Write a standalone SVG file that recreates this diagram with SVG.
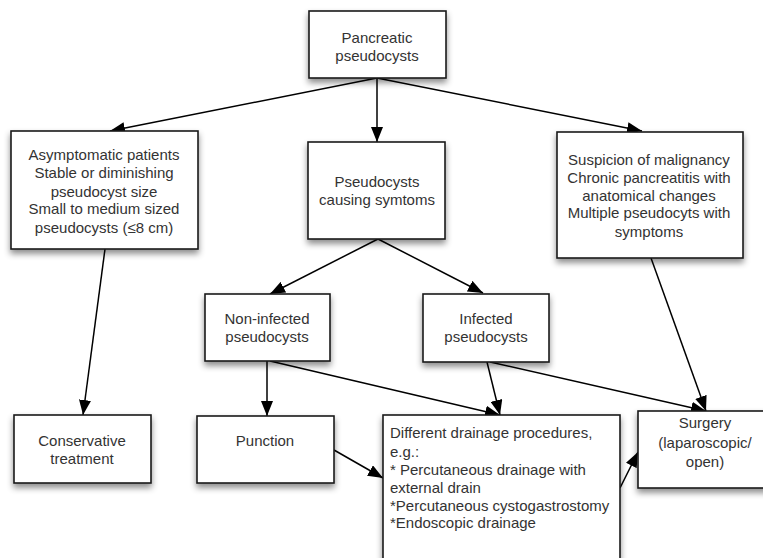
<svg xmlns="http://www.w3.org/2000/svg" width="763" height="558" viewBox="0 0 763 558">
<defs>
<filter id="sh" x="-20%" y="-20%" width="140%" height="150%">
<feDropShadow dx="0" dy="4" stdDeviation="3" flood-color="#000" flood-opacity="0.45"/>
</filter>
<marker id="ah" markerUnits="userSpaceOnUse" markerWidth="15" markerHeight="12" viewBox="0 0 15 12" refX="15" refY="6" orient="auto">
<path d="M0,0 L15,6 L0,12 Z" fill="#000"/>
</marker>
<style>
.box{fill:#fff;stroke:#1a1a1a;stroke-width:1.6;filter:url(#sh)}
.t{font-family:"Liberation Sans",Arial,sans-serif;font-size:15px;fill:#333;text-anchor:middle}
.tl{font-family:"Liberation Sans",Arial,sans-serif;font-size:15px;fill:#333;text-anchor:start}
.c{stroke:#000;stroke-width:1.5;fill:none;marker-end:url(#ah)}
</style>
</defs>
<rect width="763" height="558" fill="#fff"/>
<g id="connectors">
<line class="c" x1="377" y1="78" x2="110" y2="131"/>
<line class="c" x1="377" y1="78" x2="377" y2="142"/>
<line class="c" x1="377" y1="78" x2="642" y2="131"/>
<line class="c" x1="105" y1="249" x2="83" y2="415"/>
<line class="c" x1="378" y1="239" x2="270" y2="294"/>
<line class="c" x1="378" y1="239" x2="483" y2="293"/>
<line class="c" x1="651" y1="258" x2="706" y2="411"/>
<line class="c" x1="267" y1="361" x2="267" y2="416"/>
<line class="c" x1="270" y1="361" x2="500" y2="415"/>
<line class="c" x1="487" y1="362" x2="500" y2="415"/>
<line class="c" x1="490" y1="362" x2="706" y2="411"/>
<line class="c" x1="334" y1="450" x2="383" y2="478"/>
<line class="c" x1="620" y1="488" x2="638" y2="452"/>
</g>
<g id="n-pancreatic">
<rect class="box" x="309" y="11" width="137" height="67"/>
<text class="t" x="377" y="43">Pancreatic</text>
<text class="t" x="377" y="61">pseudocysts</text>
</g>
<g id="n-asymptomatic">
<rect class="box" x="11" y="131" width="187" height="118"/>
<text class="t" x="104" y="160">Asymptomatic patients</text>
<text class="t" x="104" y="178">Stable or diminishing</text>
<text class="t" x="104" y="197">pseudocyst size</text>
<text class="t" x="104" y="214">Small to medium sized</text>
<text class="t" x="104" y="233">pseudocysts (≤8 cm)</text>
</g>
<g id="n-symptoms">
<rect class="box" x="308" y="142" width="137" height="97"/>
<text class="t" x="377" y="187">Pseudocysts</text>
<text class="t" x="377" y="205">causing symtoms</text>
</g>
<g id="n-malignancy">
<rect class="box" x="557" y="132" width="186" height="126"/>
<text class="t" x="649" y="165">Suspicion of malignancy</text>
<text class="t" x="649" y="183">Chronic pancreatitis with</text>
<text class="t" x="649" y="201">anatomical changes</text>
<text class="t" x="649" y="218">Multiple pseudocyts with</text>
<text class="t" x="649" y="237">symptoms</text>
</g>
<g id="n-noninfected">
<rect class="box" x="205" y="294" width="125" height="67"/>
<text class="t" x="267" y="324">Non-infected</text>
<text class="t" x="267" y="342">pseudocysts</text>
</g>
<g id="n-infected">
<rect class="box" x="423" y="294" width="126" height="68"/>
<text class="t" x="486" y="324">Infected</text>
<text class="t" x="486" y="342">pseudocysts</text>
</g>
<g id="n-conservative">
<rect class="box" x="14" y="415" width="137" height="68"/>
<text class="t" x="82" y="446">Conservative</text>
<text class="t" x="82" y="464">treatment</text>
</g>
<g id="n-punction">
<rect class="box" x="197" y="416" width="137" height="67"/>
<text class="t" x="265" y="446">Punction</text>
</g>
<g id="n-drainage">
<rect class="box" x="383" y="415" width="237" height="160"/>
<text class="tl" x="390" y="438">Different drainage procedures,</text>
<text class="tl" x="390" y="457">e.g.:</text>
<text class="tl" x="390" y="475">* Percutaneous drainage with</text>
<text class="tl" x="390" y="493">external drain</text>
<text class="tl" x="390" y="511">*Percutaneous cystogastrostomy</text>
<text class="tl" x="390" y="528">*Endoscopic drainage</text>
</g>
<g id="n-surgery">
<rect class="box" x="638" y="411" width="134" height="77"/>
<text class="t" x="705" y="428">Surgery</text>
<text class="t" x="705" y="448">(laparoscopic/</text>
<text class="t" x="705" y="467">open)</text>
</g>
</svg>
